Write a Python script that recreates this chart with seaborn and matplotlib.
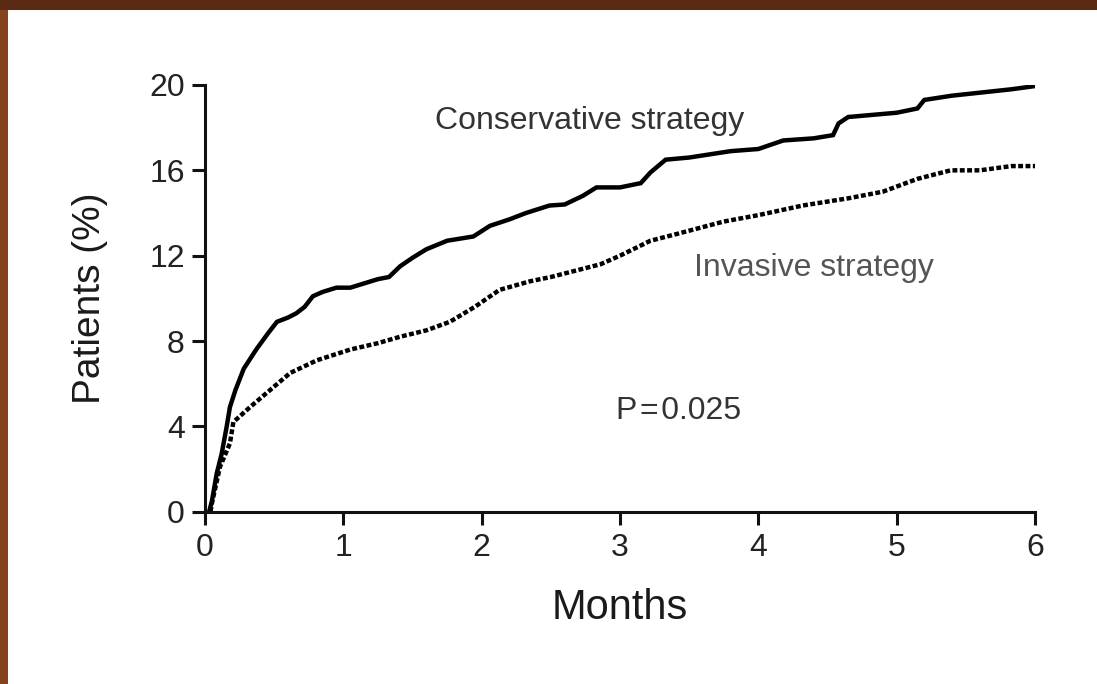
import numpy as np
import pandas as pd
import matplotlib
matplotlib.use("Agg")
import matplotlib.pyplot as plt
from matplotlib.patches import Rectangle
import seaborn as sns

# Cumulative event curves, % of patients by month
conservative_months = [0.03, 0.05, 0.085, 0.12, 0.157, 0.18, 0.22, 0.28, 0.37, 0.46,
                       0.52, 0.60, 0.66, 0.72, 0.78, 0.85, 0.95, 1.05, 1.15, 1.25,
                       1.33, 1.41, 1.50, 1.60, 1.75, 1.94, 2.06, 2.20, 2.32, 2.49,
                       2.60, 2.73, 2.83, 3.00, 3.15, 3.22, 3.33, 3.50, 3.80, 4.00,
                       4.18, 4.40, 4.54, 4.58, 4.65, 5.00, 5.15, 5.20, 5.40, 5.83, 6.00]
conservative_pct = [0.0, 0.5, 1.8, 2.7, 4.0, 4.9, 5.7, 6.7, 7.6, 8.4,
                    8.9, 9.1, 9.3, 9.6, 10.1, 10.3, 10.5, 10.5, 10.7, 10.9,
                    11.0, 11.5, 11.9, 12.3, 12.7, 12.9, 13.4, 13.7, 14.0, 14.35,
                    14.4, 14.8, 15.2, 15.2, 15.4, 15.9, 16.5, 16.6, 16.9, 17.0,
                    17.4, 17.5, 17.65, 18.2, 18.5, 18.7, 18.9, 19.3, 19.5, 19.8, 19.95]

invasive_months = [0.04, 0.05, 0.108, 0.18, 0.205, 0.325, 0.47, 0.615, 0.81, 1.05,
                   1.25, 1.41, 1.60, 1.77, 1.95, 2.13, 2.35, 2.50, 2.86, 3.00,
                   3.22, 3.40, 3.75, 4.00, 4.32, 4.66, 4.90, 5.15, 5.39, 5.60,
                   5.83, 6.00]
invasive_pct = [0.0, 0.4, 2.1, 3.2, 4.2, 4.9, 5.7, 6.5, 7.1, 7.6,
                7.9, 8.2, 8.5, 8.9, 9.6, 10.4, 10.8, 11.0, 11.6, 12.0,
                12.7, 13.0, 13.6, 13.9, 14.35, 14.7, 15.0, 15.6, 16.0, 16.0,
                16.2, 16.2]

x_ticks = [0, 1, 2, 3, 4, 5, 6]
y_ticks = [0, 4, 8, 12, 16, 20]

sns.set_theme(style="ticks")
plt.rcParams["font.family"] = ["Liberation Sans", "DejaVu Sans"]

fig = plt.figure(figsize=(10.97, 6.84), dpi=100)
fig.patch.set_facecolor("#84421f")
# white slide panel with a dark-brown band along the top edge
fig.add_artist(Rectangle((0, 1 - 10 / 684), 1, 10 / 684, transform=fig.transFigure,
                         facecolor="#5a2a14", edgecolor="none", zorder=-2))
fig.add_artist(Rectangle((8 / 1097, 0), 1, 1 - 10 / 684, transform=fig.transFigure,
                         facecolor="white", edgecolor="none", zorder=-1))

ax = fig.add_axes([205 / 1097, 172.3 / 684, 830 / 1097, 426.7 / 684])
ax.set_facecolor("none")

cons = pd.DataFrame({"month": conservative_months, "pct": conservative_pct})
inv = pd.DataFrame({"month": invasive_months, "pct": invasive_pct})

sns.lineplot(data=cons, x="month", y="pct", ax=ax, color="black", lw=3.2,
             estimator=None, sort=False, solid_joinstyle="miter")
sns.lineplot(data=inv, x="month", y="pct", ax=ax, color="black", lw=3.2,
             estimator=None, sort=False, linestyle=(0, (1.1, 0.55)))

ax.set_xlim(0, 6)
ax.set_ylim(0, 20)
ax.set_xticks(x_ticks)
ax.set_yticks(y_ticks)
ax.set_xticklabels([str(v) for v in x_ticks])
ax.set_yticklabels([str(v) for v in y_ticks])

for side in ("top", "right"):
    ax.spines[side].set_visible(False)
for side in ("left", "bottom"):
    ax.spines[side].set_linewidth(2.2)
    ax.spines[side].set_color("#111111")
ax.tick_params(axis="both", direction="out", length=9.5, width=2.2, color="#111111",
               labelsize=23, labelcolor="#222222")
ax.tick_params(axis="x", pad=6)
ax.tick_params(axis="y", pad=5)

ax.set_xlabel("Months", fontsize=30, color="#1a1a1a", labelpad=18)
ax.set_ylabel("Patients (%)", fontsize=28, color="#1a1a1a", labelpad=30)

ax.text(2.78, 18.3, "Conservative strategy", fontsize=23, color="#333333",
        ha="center", va="center")
ax.text(4.40, 11.4, "Invasive strategy", fontsize=23, color="#555555",
        ha="center", va="center")
ax.text(3.42, 4.7, "P\u200a=\u200a0.025", fontsize=23, color="#333333",
        ha="center", va="center")

fig.savefig("out.png", dpi=100, facecolor=fig.get_facecolor())
